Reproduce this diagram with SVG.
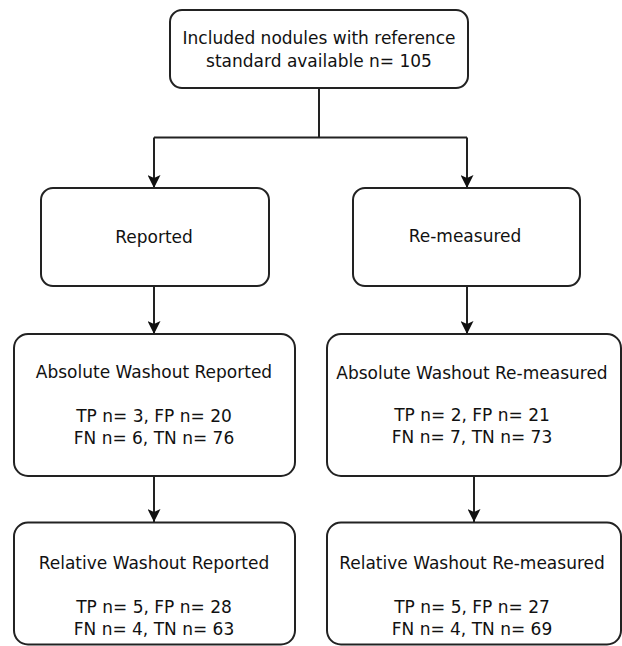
<svg xmlns="http://www.w3.org/2000/svg" width="622" height="646" viewBox="0 0 622 646">
<defs>
<style>
.box{fill:#fff;stroke:#222;stroke-width:2}
.t{font-family:"DejaVu Sans","Verdana",sans-serif;font-size:17px;fill:#111;text-anchor:middle}
.c{fill:none;stroke:#222;stroke-width:2}
</style>
<marker id="ah" markerWidth="13" markerHeight="13" viewBox="0 0 13 13" refX="13" refY="6.5" orient="auto" markerUnits="userSpaceOnUse">
<path d="M0,0 L13,6.5 L0,13 L3,6.5 Z" fill="#111"/>
</marker>
</defs>
<rect width="622" height="646" fill="#fff"/>
<g id="connectors">
<path class="c" d="M319,88 V137.5"/>
<path class="c" d="M154,137.5 H467"/>
<path class="c" d="M154,137.5 V188" marker-end="url(#ah)"/>
<path class="c" d="M467,137.5 V188" marker-end="url(#ah)"/>
<path class="c" d="M154,286 V334" marker-end="url(#ah)"/>
<path class="c" d="M467,286 V334" marker-end="url(#ah)"/>
<path class="c" d="M154,476 V522" marker-end="url(#ah)"/>
<path class="c" d="M474,476 V522" marker-end="url(#ah)"/>
</g>
<g id="n_included">
<rect class="box" x="170" y="10" width="298" height="78" rx="12"/>
<text class="t" x="319" y="43.5">Included nodules with reference</text>
<text class="t" x="319" y="66.5">standard available n= 105</text>
</g>
<g id="n_reported">
<rect class="box" x="41" y="188" width="228" height="98" rx="12"/>
<text class="t" x="154" y="242.5">Reported</text>
</g>
<g id="n_remeasured">
<rect class="box" x="353" y="188" width="227" height="98" rx="12"/>
<text class="t" x="465" y="242">Re-measured</text>
</g>
<g id="n_abs_reported">
<rect class="box" x="14" y="334" width="281" height="142" rx="14"/>
<text class="t" x="154" y="377.5">Absolute Washout Reported</text>
<text class="t" x="154" y="421.5">TP n= 3, FP n= 20</text>
<text class="t" x="154" y="444">FN n= 6, TN n= 76</text>
</g>
<g id="n_abs_remeasured">
<rect class="box" x="327" y="334" width="294" height="142" rx="14"/>
<text class="t" x="472" y="379">Absolute Washout Re-measured</text>
<text class="t" x="472" y="421">TP n= 2, FP n= 21</text>
<text class="t" x="472" y="443">FN n= 7, TN n= 73</text>
</g>
<g id="n_rel_reported">
<rect class="box" x="14" y="522.5" width="281" height="122" rx="14"/>
<text class="t" x="154" y="568.5">Relative Washout Reported</text>
<text class="t" x="154" y="613">TP n= 5, FP n= 28</text>
<text class="t" x="154" y="634.5">FN n= 4, TN n= 63</text>
</g>
<g id="n_rel_remeasured">
<rect class="box" x="327" y="522.5" width="294" height="122" rx="14"/>
<text class="t" x="472" y="568.5">Relative Washout Re-measured</text>
<text class="t" x="472" y="613">TP n= 5, FP n= 27</text>
<text class="t" x="472" y="634.5">FN n= 4, TN n= 69</text>
</g>
</svg>
